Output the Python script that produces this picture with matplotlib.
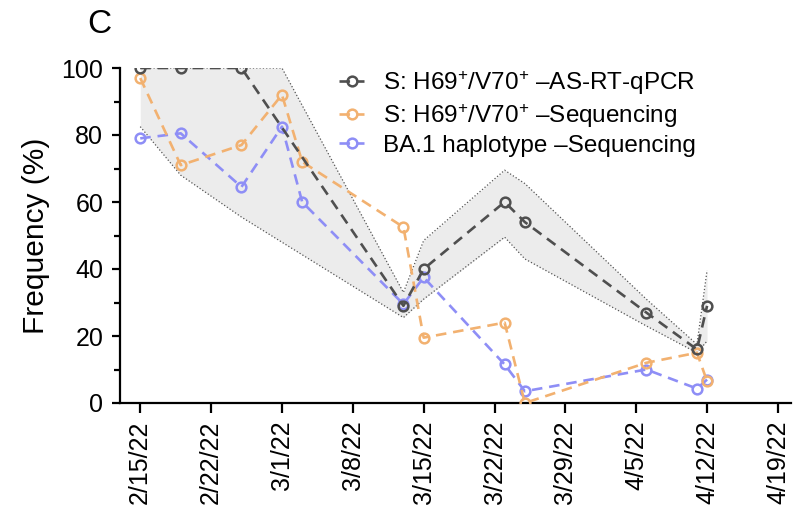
import matplotlib
matplotlib.use('Agg')
import matplotlib.pyplot as plt
import matplotlib.dates as mdates
from matplotlib.ticker import MultipleLocator
import pandas as pd

plt.rcParams['font.family'] = ['Liberation Sans', 'DejaVu Sans']
plt.rcParams['mathtext.fontset'] = 'custom'
plt.rcParams['mathtext.rm'] = 'Liberation Sans'
plt.rcParams['mathtext.it'] = 'Liberation Sans'

# AS-RT-qPCR
pcr_dates = ['2022-02-15', '2022-02-19', '2022-02-25', '2022-03-13', '2022-03-15',
             '2022-03-23', '2022-03-25', '2022-04-06', '2022-04-11', '2022-04-12']
pcr_vals = [100, 100, 100, 29, 40, 60, 54, 27, 16, 29]

# shaded range around qPCR
band_dates = ['2022-02-15', '2022-02-19', '2022-02-25', '2022-03-01', '2022-03-13', '2022-03-15',
              '2022-03-23', '2022-03-25', '2022-04-06', '2022-04-11', '2022-04-12']
band_hi = [100, 100, 100, 100, 33, 48.5, 69.5, 65.5, 31, 17.5, 39.6]
band_lo = [82.5, 68, 55.5, 48, 25.5, 31, 49.5, 43, 23, 15, 18.5]

# sequencing
seq_dates = ['2022-02-15', '2022-02-19', '2022-02-25', '2022-03-01', '2022-03-03', '2022-03-13',
             '2022-03-15', '2022-03-23', '2022-03-25', '2022-04-06', '2022-04-11', '2022-04-12']
seq_h69 = [97, 71, 77, 92, 72, 52.5, 19.5, 24, 0, 12, 15, 6.5]
seq_ba1 = [79, 80.5, 64.5, 82.5, 60, 29.5, 37.5, 11.5, 3.5, 10, 4.3, 7]

tick_labels = ['2/15/22', '2/22/22', '3/1/22', '3/8/22', '3/15/22',
               '3/22/22', '3/29/22', '4/5/22', '4/12/22', '4/19/22']
tick_dates = pd.date_range('2022-02-15', periods=len(tick_labels), freq='7D')

labels = ['S: H69$^{+}$/V70$^{+}$ \u2013AS-RT-qPCR',
          'S: H69$^{+}$/V70$^{+}$ \u2013Sequencing',
          'BA.1 haplotype \u2013Sequencing']
c_gray, c_orange, c_blue = '#4f4f4f', '#f2b170', '#8e8ef6'

fig = plt.figure(figsize=(8.03, 5.14), dpi=100)
ax = fig.add_axes([120 / 803, 111 / 514, 671 / 803, 335 / 514])

bd = pd.to_datetime(band_dates)
ax.fill_between(bd, band_lo, band_hi, color='#ececec', lw=0, zorder=1)
ax.plot(bd, band_hi, ls=':', color='#555555', lw=0.9, zorder=2)
ax.plot(bd, band_lo, ls=':', color='#555555', lw=0.9, zorder=2)

style = dict(ls=(0, (4, 2.6)), lw=1.9, marker='o', ms=7, mfc='none', mew=1.8)
h3, = ax.plot(pd.to_datetime(seq_dates), seq_ba1, color=c_blue, zorder=3, **style)
h2, = ax.plot(pd.to_datetime(seq_dates), seq_h69, color=c_orange, zorder=4, **style)
h1, = ax.plot(pd.to_datetime(pcr_dates), pcr_vals, color=c_gray, zorder=5, **style)

ax.legend([h1, h2, h3], labels, loc='upper left', bbox_to_anchor=(0.327, 0.997),
          frameon=False, fontsize=17.5, handlelength=1.0, handletextpad=0.8,
          labelspacing=0.2, borderaxespad=0, borderpad=0)

ax.set_xlim(mdates.date2num(pd.Timestamp('2022-02-13')), mdates.date2num(pd.Timestamp('2022-04-20 07:00')))
ax.set_ylim(0, 100)
ax.set_xticks(tick_dates)
ax.set_xticklabels(tick_labels, rotation=90, fontsize=18)
ax.yaxis.set_major_locator(MultipleLocator(20))
ax.yaxis.set_minor_locator(MultipleLocator(10))
ax.tick_params(axis='y', which='major', labelsize=18, length=6, width=1.6, pad=6)
ax.tick_params(axis='y', which='minor', length=4, width=1.6)
ax.tick_params(axis='x', length=7.5, width=1.6, pad=5)
ax.set_ylabel('Frequency (%)', fontsize=21.5, labelpad=8)

for s in ['top', 'right']:
    ax.spines[s].set_visible(False)
for s in ['left', 'bottom']:
    ax.spines[s].set_linewidth(1.6)

fig.text(87 / 803, 1 - 24 / 514, 'C', fontsize=24, va='center', ha='left')

fig.savefig('out.png', dpi=100)
